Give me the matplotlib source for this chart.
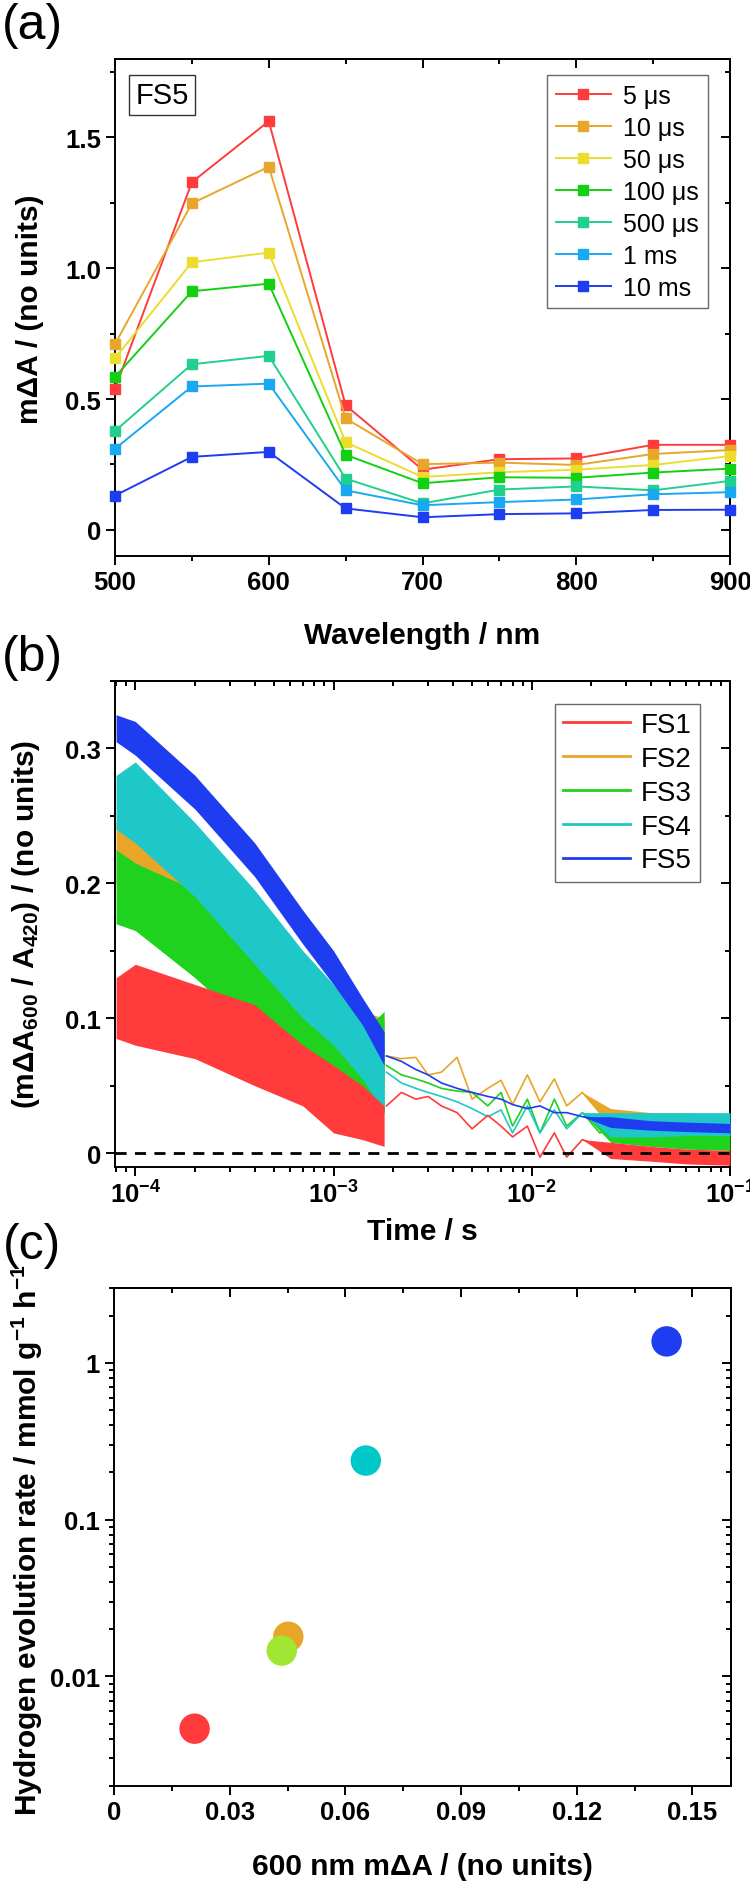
import numpy as np
import matplotlib
matplotlib.use("Agg")
import matplotlib.pyplot as plt
from matplotlib.ticker import MultipleLocator, LogLocator, NullFormatter

# ---- panel (a): transient spectra of FS5 ----
wavelengths = [500, 550, 600, 650, 700, 750, 800, 850, 900]
delay_labels = ["5 \u03bcs", "10 \u03bcs", "50 \u03bcs", "100 \u03bcs", "500 \u03bcs", "1 ms", "10 ms"]
spec_5us = [0.539, 1.329, 1.562, 0.476, 0.230, 0.270, 0.273, 0.325, 0.325]
spec_10us = [0.710, 1.248, 1.388, 0.426, 0.251, 0.257, 0.248, 0.290, 0.305]
spec_50us = [0.656, 1.023, 1.060, 0.335, 0.202, 0.220, 0.230, 0.248, 0.282]
spec_100us = [0.585, 0.912, 0.941, 0.287, 0.178, 0.201, 0.199, 0.219, 0.234]
spec_500us = [0.378, 0.633, 0.665, 0.196, 0.101, 0.154, 0.166, 0.151, 0.187]
spec_1ms = [0.310, 0.548, 0.559, 0.151, 0.094, 0.106, 0.116, 0.136, 0.144]
spec_10ms = [0.131, 0.279, 0.298, 0.082, 0.048, 0.060, 0.063, 0.076, 0.077]
spec_colors = ["#ff3b3b", "#e8a62a", "#ebdc2d", "#14d014", "#20d08c", "#1aa8f0", "#1e3cf0"]

# ---- panel (b): normalised kinetics at 600 nm ----
sample_names = ["FS1", "FS2", "FS3", "FS4", "FS5"]
kin_colors = ["#ff3b3b", "#e8a628", "#1ed21e", "#1ec8c8", "#1e3cf0"]
# noisy early part, read as lower / upper envelope
t_band = [8e-5, 1e-4, 2e-4, 4e-4, 7e-4, 1e-3, 1.4e-3, 1.8e-3]
fs1_lo = [0.085, 0.08, 0.07, 0.05, 0.035, 0.015, 0.01, 0.005]
fs1_hi = [0.13, 0.14, 0.125, 0.11, 0.08, 0.065, 0.05, 0.035]
fs2_lo = [0.20, 0.19, 0.165, 0.13, 0.095, 0.075, 0.06, 0.05]
fs2_hi = [0.245, 0.24, 0.215, 0.18, 0.14, 0.12, 0.105, 0.10]
fs3_lo = [0.17, 0.165, 0.13, 0.09, 0.06, 0.045, 0.035, 0.03]
fs3_hi = [0.225, 0.215, 0.195, 0.155, 0.115, 0.095, 0.09, 0.105]
fs4_lo = [0.24, 0.23, 0.19, 0.14, 0.10, 0.08, 0.055, 0.03]
fs4_hi = [0.28, 0.29, 0.245, 0.195, 0.15, 0.125, 0.10, 0.085]
fs5_lo = [0.305, 0.295, 0.255, 0.205, 0.155, 0.125, 0.095, 0.065]
fs5_hi = [0.325, 0.32, 0.28, 0.23, 0.18, 0.15, 0.115, 0.09]
# slower time base
t_line = [1.85e-3, 2.2e-3, 2.6e-3, 3e-3, 3.5e-3, 4.2e-3, 5e-3, 6e-3, 7e-3, 8e-3,
          9.5e-3, 1.1e-2, 1.3e-2, 1.5e-2, 1.8e-2, 2.2e-2, 3e-2, 5e-2, 1e-1]
fs1_line = [0.035, 0.045, 0.04, 0.042, 0.035, 0.03, 0.018, 0.028, 0.02, 0.012,
            0.02, -0.003, 0.015, -0.003, 0.01, 0.005, 0.003, 0.0, -0.005]
fs2_line = [0.072, 0.07, 0.071, 0.058, 0.06, 0.071, 0.04, 0.048, 0.054, 0.036,
            0.058, 0.038, 0.055, 0.035, 0.045, 0.03, 0.028, 0.024, 0.022]
fs3_line = [0.065, 0.058, 0.055, 0.052, 0.048, 0.046, 0.045, 0.035, 0.045, 0.02,
            0.04, 0.015, 0.04, 0.02, 0.03, 0.015, 0.02, 0.015, 0.01]
fs4_line = [0.06, 0.052, 0.048, 0.045, 0.042, 0.038, 0.033, 0.027, 0.032, 0.015,
            0.035, 0.015, 0.032, 0.018, 0.03, 0.02, 0.025, 0.022, 0.022]
fs5_line = [0.072, 0.068, 0.062, 0.058, 0.052, 0.048, 0.045, 0.042, 0.04, 0.036,
            0.033, 0.035, 0.03, 0.03, 0.027, 0.025, 0.022, 0.02, 0.018]
# noisy tail, envelope opening up from the line at 18 ms
t_tail = [1.8e-2, 2.5e-2, 4e-2, 6e-2, 1e-1]
fs1_tail_lo = [0.01, -0.004, -0.006, -0.008, -0.009]
fs1_tail_hi = [0.01, 0.008, 0.005, 0.003, 0.002]
fs2_tail_lo = [0.045, 0.02, 0.018, 0.017, 0.016]
fs2_tail_hi = [0.045, 0.033, 0.03, 0.03, 0.028]
fs3_tail_lo = [0.03, 0.008, 0.005, 0.003, 0.002]
fs3_tail_hi = [0.03, 0.028, 0.026, 0.024, 0.022]
fs4_tail_lo = [0.03, 0.012, 0.012, 0.013, 0.013]
fs4_tail_hi = [0.03, 0.03, 0.03, 0.03, 0.03]
fs5_tail_lo = [0.027, 0.019, 0.017, 0.016, 0.015]
fs5_tail_hi = [0.027, 0.027, 0.024, 0.023, 0.022]

# ---- panel (c): H2 evolution vs signal ----
her_dA = [0.0209, 0.0452, 0.0435, 0.0653, 0.1433]
her_rate = [0.00464, 0.0179, 0.0146, 0.238, 1.37]
her_colors = ["#ff3b3b", "#e8a628", "#a0e632", "#00c8c8", "#1e3cf0"]

plt.rcParams["font.family"] = ["Liberation Sans", "DejaVu Sans"]
plt.rcParams["mathtext.fontset"] = "custom"
plt.rcParams["mathtext.rm"] = "Liberation Sans:bold"
plt.rcParams["mathtext.bf"] = "Liberation Sans:bold"
plt.rcParams["mathtext.it"] = "Liberation Sans:bold:italic"
plt.rcParams["mathtext.sf"] = "Liberation Sans:bold"
plt.rcParams["axes.linewidth"] = 1.4

W, H = 750, 1883
fig = plt.figure(figsize=(W / 100, H / 100), dpi=100)

def box(l, t, r, b):
    return [l / W, 1 - b / H, (r - l) / W, (b - t) / H]

TICK = 18.5
LAB = 21.5

def ticks_out(ax):
    ax.tick_params(which="both", direction="out", width=1.4, top=False, right=False)
    ax.tick_params(which="major", length=6.5)
    ax.tick_params(which="minor", length=3.5)

def mirror(ax, xlog=False, ylog=False, xmaj=None, xmin=None, ymaj=None, ymin=None):
    # ticks pointing inward on top and right, no labels
    top = ax.secondary_xaxis("top")
    right = ax.secondary_yaxis("right")
    for sec, log, maj, mn in ((top.xaxis, xlog, xmaj, xmin), (right.yaxis, ylog, ymaj, ymin)):
        if log:
            sec.set_major_locator(LogLocator(base=10, numticks=20))
            sec.set_minor_locator(LogLocator(base=10, subs=np.arange(2, 10), numticks=20))
        else:
            sec.set_major_locator(MultipleLocator(maj))
            sec.set_minor_locator(MultipleLocator(mn))
        sec.set_major_formatter(NullFormatter())
        sec.set_minor_formatter(NullFormatter())
    for s in (top, right):
        s.tick_params(which="both", direction="in", width=1.4)
        s.tick_params(which="major", length=6.5)
        s.tick_params(which="minor", length=3.5)

# ================= (a) =================
ax1 = fig.add_axes(box(115, 60, 730, 557))
spectra = [spec_5us, spec_10us, spec_50us, spec_100us, spec_500us, spec_1ms, spec_10ms]
for vals, col, lab in zip(spectra, spec_colors, delay_labels):
    ax1.plot(wavelengths, vals, color=col, lw=1.4, marker="s", ms=7.5,
             mec=col, mfc=col, label=lab, clip_on=False, zorder=3)
ax1.set_xlim(500, 900)
ax1.set_ylim(-0.1, 1.8)
ax1.set_xticks([500, 600, 700, 800, 900], ["500", "600", "700", "800", "900"],
               fontsize=TICK, fontweight="bold")
ax1.set_yticks([0, 0.5, 1.0, 1.5], ["0", "0.5", "1.0", "1.5"], fontsize=TICK, fontweight="bold")
ax1.xaxis.set_minor_locator(MultipleLocator(50))
ax1.yaxis.set_minor_locator(MultipleLocator(0.25))
ticks_out(ax1)
mirror(ax1, xmaj=100, xmin=50, ymaj=0.5, ymin=0.25)
leg1 = ax1.legend(loc="upper right", bbox_to_anchor=(0.964, 0.968), borderaxespad=0,
                  fontsize=18, frameon=True, fancybox=False, numpoints=1,
                  handlelength=2.2, labelspacing=0.32, handletextpad=0.5,
                  borderpad=0.35)
leg1.get_frame().set_edgecolor("#444444")
leg1.get_frame().set_linewidth(1.0)
ax1.text(0.0764, 0.9276, "FS5", transform=ax1.transAxes, fontsize=21,
         ha="center", va="center",
         bbox=dict(boxstyle="square,pad=0.2", fc="white", ec="#333333", lw=1.0))

# ================= (b) =================
ax2 = fig.add_axes(box(115, 682, 730, 1168))
bands = {
    "FS1": (fs1_lo, fs1_hi, fs1_line, fs1_tail_lo, fs1_tail_hi),
    "FS2": (fs2_lo, fs2_hi, fs2_line, fs2_tail_lo, fs2_tail_hi),
    "FS3": (fs3_lo, fs3_hi, fs3_line, fs3_tail_lo, fs3_tail_hi),
    "FS4": (fs4_lo, fs4_hi, fs4_line, fs4_tail_lo, fs4_tail_hi),
    "FS5": (fs5_lo, fs5_hi, fs5_line, fs5_tail_lo, fs5_tail_hi),
}
handles = {}
draw_order = ["FS2", "FS3", "FS4", "FS5", "FS1"]
for z, name in enumerate(draw_order):
    col = kin_colors[sample_names.index(name)]
    lo, hi, line, tlo, thi = bands[name]
    ax2.fill_between(t_band, lo, hi, color=col, lw=0, zorder=2 + z)
    ax2.fill_between(t_tail, tlo, thi, color=col, lw=0, zorder=2 + z)
    (h,) = ax2.plot(t_line, line, color=col, lw=1.2, zorder=2 + z, label=name)
    handles[name] = h
ax2.axhline(0, color="black", lw=2, ls=(0, (4, 3)), zorder=10)
ax2.set_xscale("log")
ax2.set_xlim(7.9e-5, 0.1)
ax2.set_ylim(-0.0103, 0.35)
ax2.set_xticks([1e-4, 1e-3, 1e-2, 1e-1],
               ["$10^{-4}$", "$10^{-3}$", "$10^{-2}$", "$10^{-1}$"], fontsize=TICK)
ax2.xaxis.set_minor_locator(LogLocator(base=10, subs=np.arange(2, 10), numticks=20))
ax2.xaxis.set_minor_formatter(NullFormatter())
ax2.set_yticks([0, 0.1, 0.2, 0.3], ["0", "0.1", "0.2", "0.3"], fontsize=TICK, fontweight="bold")
ax2.yaxis.set_minor_locator(MultipleLocator(0.05))
ticks_out(ax2)
mirror(ax2, xlog=True, ymaj=0.1, ymin=0.05)
leg2 = ax2.legend([handles[n] for n in sample_names], sample_names, loc="upper right",
                  bbox_to_anchor=(0.951, 0.953), borderaxespad=0, fontsize=20,
                  frameon=True, fancybox=False, handlelength=2.4, labelspacing=0.28,
                  handletextpad=0.4, borderpad=0.3)
leg2.get_frame().set_edgecolor("#444444")
leg2.get_frame().set_linewidth(1.0)
for ln in leg2.get_lines():
    ln.set_linewidth(2)

# ================= (c) =================
ax3 = fig.add_axes(box(114, 1289, 731, 1787))
ax3.scatter(her_dA, her_rate, s=480, c=her_colors, edgecolors="none", zorder=3)
ax3.set_yscale("log")
ax3.set_xlim(0, 0.16)
ax3.set_ylim(0.002, 3)
ax3.set_xticks([0, 0.03, 0.06, 0.09, 0.12, 0.15],
               ["0", "0.03", "0.06", "0.09", "0.12", "0.15"], fontsize=TICK, fontweight="bold")
ax3.set_yticks([0.01, 0.1, 1], ["0.01", "0.1", "1"], fontsize=TICK, fontweight="bold")
ax3.xaxis.set_minor_locator(MultipleLocator(0.015))
ax3.yaxis.set_minor_locator(LogLocator(base=10, subs=np.arange(2, 10), numticks=20))
ax3.yaxis.set_minor_formatter(NullFormatter())
ticks_out(ax3)
mirror(ax3, ylog=True, xmaj=0.03, xmin=0.015)

# ---- labels ----
def ftext(x, y, s, **kw):
    fig.text(x / W, 1 - y / H, s, ha="center", va="center", **kw)

ftext(32, 26, "(a)", fontsize=36)
ftext(32, 658, "(b)", fontsize=36)
ftext(32, 1246, "(c)", fontsize=36)
ftext(422, 636, "Wavelength / nm", fontsize=LAB, fontweight="bold")
ftext(30, 309, "m\u0394A / (no units)", fontsize=LAB, fontweight="bold", rotation=90)
ftext(422, 1232, "Time / s", fontsize=LAB, fontweight="bold")
ftext(26, 924, "(m\u0394A$_{600}$ / A$_{420}$) / (no units)", fontsize=LAB,
      fontweight="bold", rotation=90)
ftext(422, 1867, "600 nm m\u0394A / (no units)", fontsize=LAB, fontweight="bold")
ftext(27, 1540, "Hydrogen evolution rate / mmol g$^{-1}$ h$^{-1}$", fontsize=LAB,
      fontweight="bold", rotation=90)

fig.savefig("out.png", dpi=100)
